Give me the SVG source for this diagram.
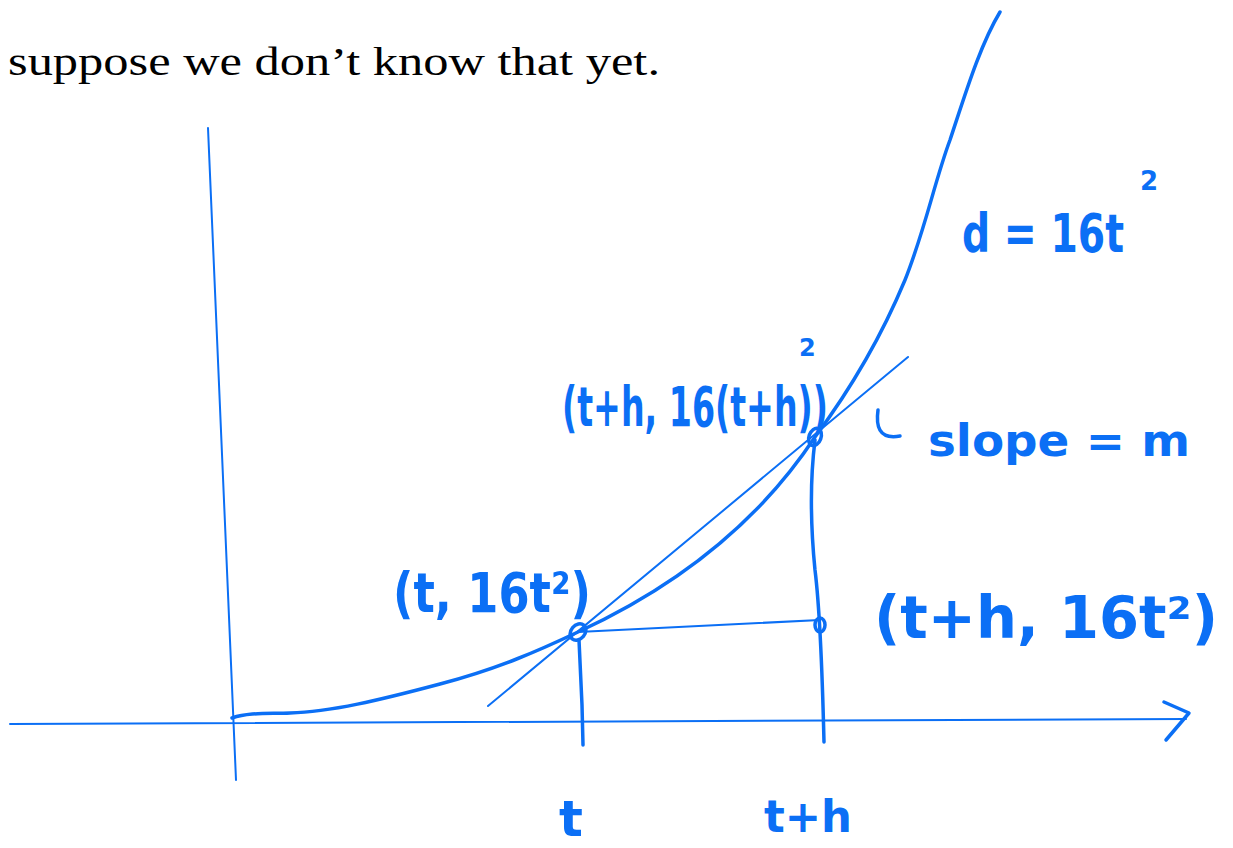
<svg xmlns="http://www.w3.org/2000/svg" width="1233" height="848" viewBox="0 0 1233 848">
<style>
.ln{fill:none;stroke:#0b6ff5;stroke-linecap:round;stroke-linejoin:round}
.thin{stroke-width:2}
.thick{stroke-width:3.5}
.hw{fill:#0b6ff5;font-family:"DejaVu Sans","Noto Sans",sans-serif;font-weight:bold}
.body{fill:#000;font-family:"Liberation Serif",serif}
</style>
<rect width="1233" height="848" fill="#fff"/>
<text class="body" x="8" y="75" font-size="41" textLength="652" lengthAdjust="spacingAndGlyphs">suppose we don’t know that yet.</text>
<g id="connectors">
<line class="ln thin" x1="208" y1="128" x2="236" y2="780"/>
<line class="ln thin" x1="10" y1="724" x2="1186" y2="719"/>
<polyline class="ln thick" points="1164,702 1189,713 1166,740"/>
<path class="ln thick" d="M232,718 C250,712 270,714 290,713 C330,712 380,700 440,684 C500,668 540,650 578,632 C680,585 760,520 815,437 C850,390 880,340 905,280 C925,230 935,180 950,140 C965,95 980,45 1000,12"/>
<line class="ln thin" x1="488" y1="706" x2="908" y2="357"/>
<line class="ln thin" x1="578" y1="632" x2="820" y2="620"/>
<path class="ln thick" d="M579,640 L582,705 L583,745"/>
<path class="ln thick" d="M815,440 C810,480 810,520 815,570 C820,610 822,660 824,742"/>
<path class="ln thick" d="M878,410 C876,425 878,440 900,436"/>
</g>
<g id="p1"><ellipse class="ln thick" cx="578" cy="632" rx="7" ry="9" transform="rotate(40 578 632)"/></g>
<g id="p2"><ellipse class="ln thick" cx="815" cy="437" rx="6" ry="9" transform="rotate(20 815 437)"/></g>
<g id="p3"><ellipse class="ln thick" cx="820" cy="625" rx="5" ry="7"/></g>
<g id="label-d"><text class="hw" x="962" y="252" font-size="54" textLength="162" lengthAdjust="spacingAndGlyphs">d = 16t</text><text class="hw" x="1140" y="190" font-size="26">2</text></g>
<g id="label-p2"><text class="hw" x="562" y="426" font-size="56" textLength="266" lengthAdjust="spacingAndGlyphs">(t+h, 16(t+h))</text><text class="hw" x="799" y="356" font-size="24">2</text></g>
<g id="label-slope"><text class="hw" x="928" y="456" font-size="44" textLength="262" lengthAdjust="spacingAndGlyphs">slope = m</text></g>
<g id="label-p1"><text class="hw" x="393" y="612" font-size="56" textLength="198" lengthAdjust="spacingAndGlyphs">(t, 16t²)</text></g>
<g id="label-p3"><text class="hw" x="874" y="638" font-size="58" textLength="344" lengthAdjust="spacingAndGlyphs">(t+h, 16t²)</text></g>
<g id="label-t"><text class="hw" x="559" y="836" font-size="50">t</text></g>
<g id="label-th"><text class="hw" x="764" y="832" font-size="44" textLength="88" lengthAdjust="spacingAndGlyphs">t+h</text></g>
</svg>
